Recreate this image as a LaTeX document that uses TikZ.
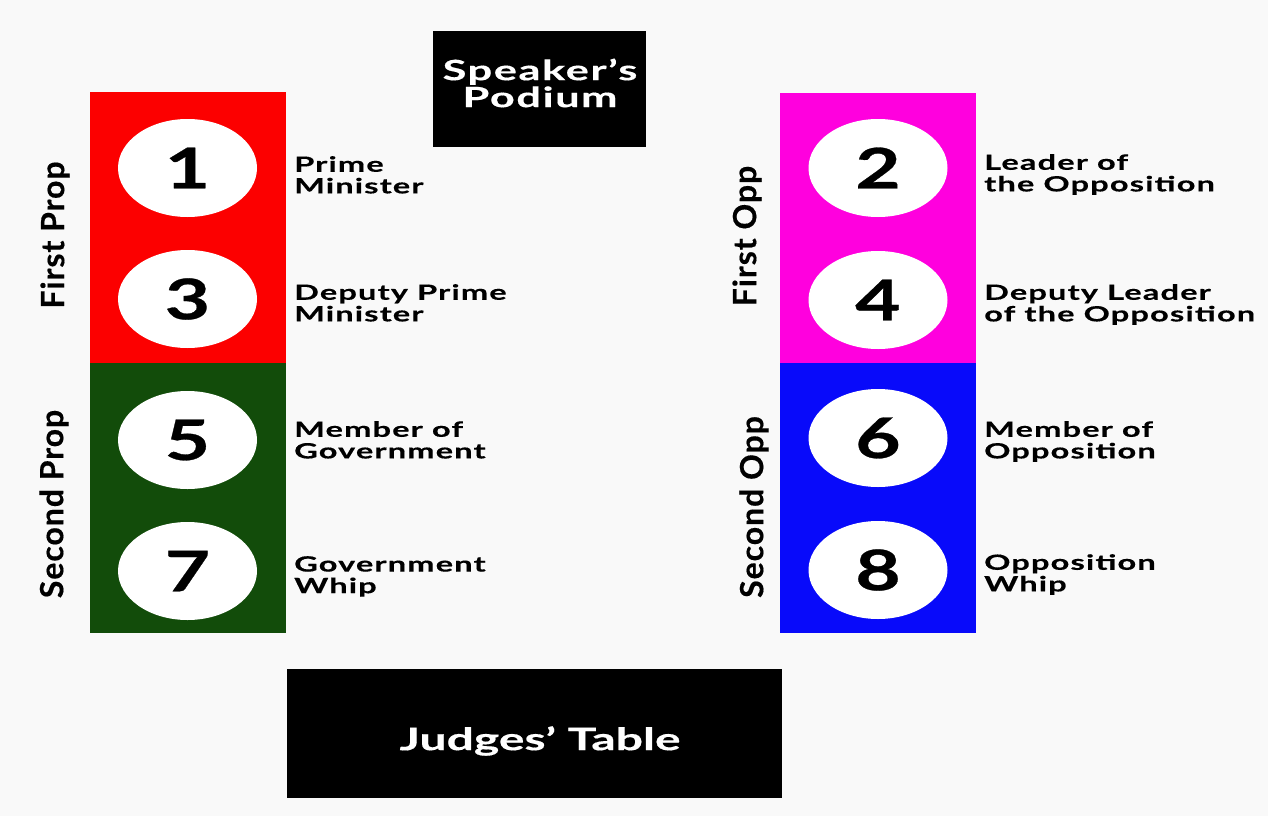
\documentclass[tikz,border=0pt]{standalone}
\usepackage{fontspec}
\setmainfont{Lato}[LetterSpace=3, FakeBold=0.4]
\newfontfamily\widefont{Lato}[FakeStretch=1.55, LetterSpace=5.5, FakeBold=0.4]
\newfontfamily\stretchfont{Lato}[FakeStretch=1.4, FakeBold=0.5]
\newfontfamily\judgefont{Lato}[FakeStretch=1.55, FakeBold=0.4]
\usetikzlibrary{shapes.geometric}
\definecolor{bgc}{RGB}{249,249,249}
\definecolor{propred}{RGB}{252,0,0}
\definecolor{propgreen}{RGB}{18,76,10}
\definecolor{opppink}{RGB}{255,0,222}
\definecolor{oppblue}{RGB}{8,10,250}
\begin{document}
\begin{tikzpicture}[x=1pt,y=-1pt,
  column/.style={rectangle, draw=none, inner sep=0pt},
  seat/.style={ellipse, fill=white, draw=none, inner sep=0pt, minimum width=139pt, minimum height=98pt,
    font=\stretchfont\fontsize{56}{56}\selectfont\bfseries},
  role/.style={anchor=north west, align=left, inner sep=0pt, text=black,
    font=\widefont\fontsize{21}{21.6}\selectfont\bfseries},
  side/.style={rotate=90, inner sep=0pt, text=black, font=\fontsize{32}{32}\selectfont\bfseries},
  blackbox/.style={rectangle, fill=black, draw=none, inner sep=0pt},
  boxtext/.style={text=white, align=center, inner sep=0pt}
]
\fill[bgc] (0,0) rectangle (1268,816);
\useasboundingbox (0,0) rectangle (1268,816);

% Speaker's podium
\node[blackbox, minimum width=213pt, minimum height=116pt] (podium) at (539.5,89) {};
\node[boxtext, font=\widefont\fontsize{28}{27}\selectfont\bfseries] (podiumtext) at (540,83) {Speaker’s\\Podium};

% Judges' table
\node[blackbox, minimum width=495pt, minimum height=129pt] (judges) at (534.5,733.5) {};
\node[boxtext, font=\judgefont\fontsize{31}{31}\selectfont\bfseries] (judgestext) at (540,741) {Judges’ Table};

% Columns
\node[column, fill=propred, minimum width=196pt, minimum height=271pt] (fprop) at (188,227.5) {};
\node[column, fill=propgreen, minimum width=196pt, minimum height=270pt] (sprop) at (188,498) {};
\node[column, fill=opppink, minimum width=196pt, minimum height=270pt] (fopp) at (878,228) {};
\node[column, fill=oppblue, minimum width=196pt, minimum height=270pt] (sopp) at (878,498) {};

% Seats
\node[seat] (s1) at (187.5,168) {1};
\node[seat] (s3) at (187.5,299) {3};
\node[seat] (s5) at (187.5,440) {5};
\node[seat] (s7) at (187.5,571) {7};
\node[seat] (s2) at (878,168) {2};
\node[seat] (s4) at (878,300) {4};
\node[seat] (s6) at (878,438) {6};
\node[seat] (s8) at (878,570) {8};

% Role labels
\node[role] (r1) at (294,156) {Prime\\Minister};
\node[role] (r3) at (294,284) {Deputy Prime\\Minister};
\node[role] (r5) at (294,421) {Member of\\Government};
\node[role] (r7) at (294,556) {Government\\Whip};
\node[role] (r2) at (984,154) {Leader of\\the Opposition};
\node[role] (r4) at (984,284) {Deputy Leader\\of the Opposition};
\node[role] (r6) at (984,421) {Member of\\Opposition};
\node[role] (r8) at (984,554) {Opposition\\Whip};

% Side labels
\node[side] (l1) at (55,235) {First Prop};
\node[side] (l2) at (54,504) {Second Prop};
\node[side] (l3) at (747,236) {First Opp};
\node[side] (l4) at (754,507) {Second Opp};
\end{tikzpicture}
\end{document}
